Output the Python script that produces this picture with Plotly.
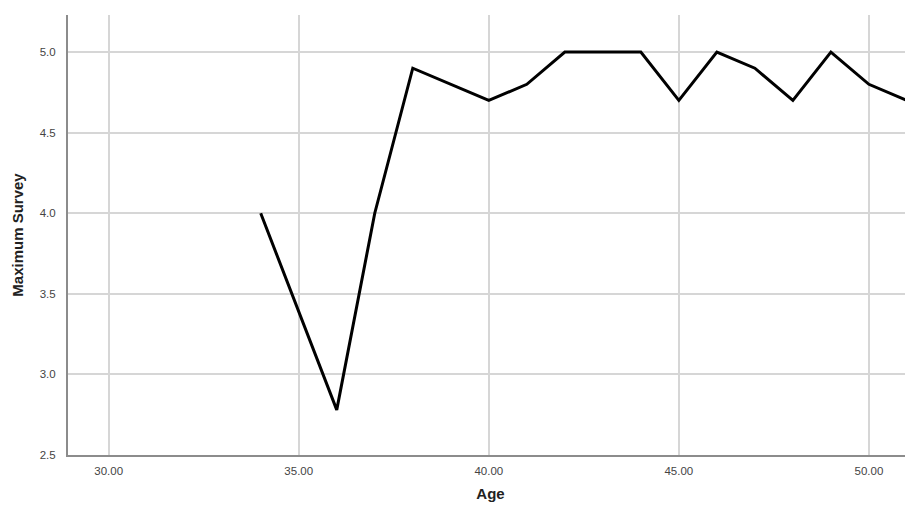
import plotly.graph_objects as go

ages = [34, 36, 37, 38, 40, 41, 42, 43, 44, 45, 46, 47, 48, 49, 50, 51]
max_survey = [4.0, 2.78, 4.0, 4.9, 4.7, 4.8, 5.0, 5.0, 5.0, 4.7, 5.0, 4.9, 4.7, 5.0, 4.8, 4.7]
x_ticks = [30, 35, 40, 45, 50]
x_tick_labels = ["30.00", "35.00", "40.00", "45.00", "50.00"]
y_ticks = [2.5, 3.0, 3.5, 4.0, 4.5, 5.0]
y_tick_labels = ["2.5", "3.0", "3.5", "4.0", "4.5", "5.0"]

fig = go.Figure()
fig.add_trace(go.Scatter(x=ages, y=max_survey, mode="lines",
                         line=dict(color="black", width=3), showlegend=False))

fig.update_layout(
    width=905, height=494,
    margin=dict(l=60, r=0, t=7, b=47),
    paper_bgcolor="white", plot_bgcolor="white",
    font=dict(family="Liberation Sans, Arial, sans-serif"),
)
fig.update_xaxes(
    range=[28.93, 51.16], tickvals=x_ticks, ticktext=x_tick_labels,
    showgrid=True, gridcolor="#d6d6d6", gridwidth=1.5,
    showline=True, linecolor="#8c8c8c", linewidth=2,
    ticks="", ticklabelstandoff=4,
    tickfont=dict(size=11.5, color="#444"),
    zeroline=False,
    title=dict(text="<b>Age</b>", font=dict(size=15, color="#222"), standoff=14),
)
fig.update_yaxes(
    range=[2.5, 5.23], tickvals=y_ticks, ticktext=y_tick_labels,
    showgrid=True, gridcolor="#d6d6d6", gridwidth=1.5,
    showline=True, linecolor="#8c8c8c", linewidth=2,
    ticks="", ticklabelstandoff=8,
    tickfont=dict(size=11.5, color="#444"),
    zeroline=False,
    title=dict(text="<b>Maximum Survey</b>", font=dict(size=15, color="#222"), standoff=12),
)

fig.write_html("out.html")
